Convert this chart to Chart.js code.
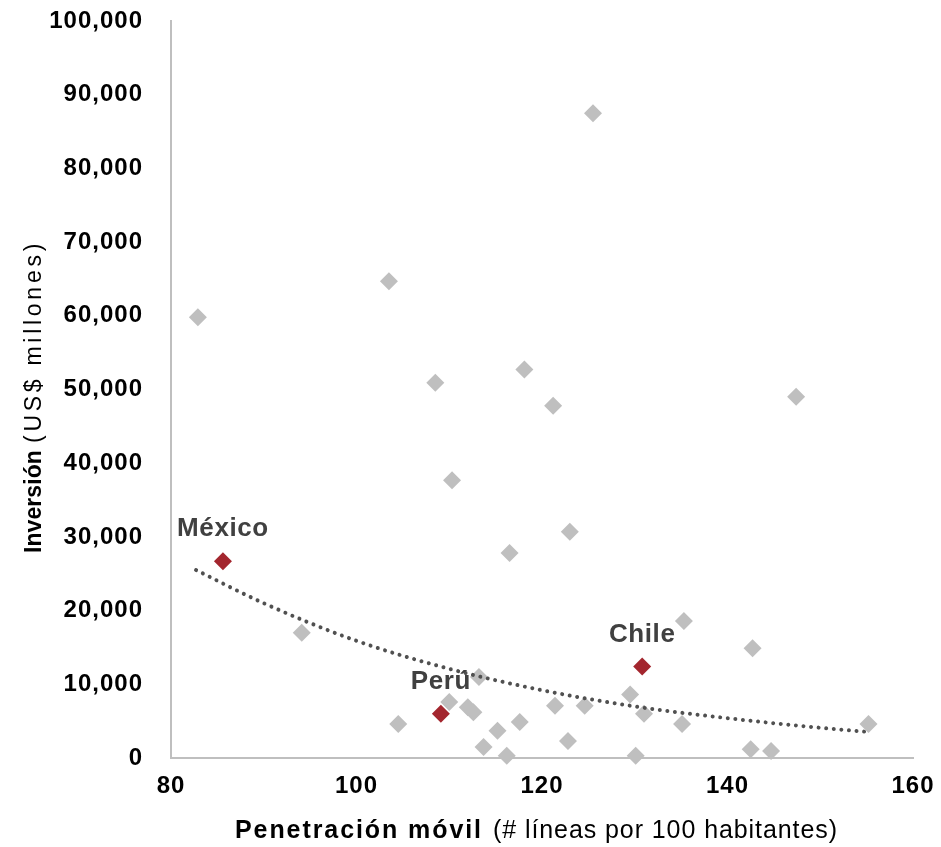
<!DOCTYPE html>
<html>
<head>
<meta charset="utf-8">
<script src="https://cdn.jsdelivr.net/npm/chart.js@4/dist/chart.umd.min.js"></script>
<style>
  body { margin: 0; background: #fff; }
</style>
</head>
<body>
<canvas id="scatterChart" width="941" height="847"></canvas>
<script>
// penetración móvil (x) vs inversión US$ millones (y)
const greyX = [82.9, 94.1, 103.5, 104.5, 108.5, 110.0, 110.3, 112.0, 112.6, 113.2, 113.7,
  115.2, 116.2, 116.5, 117.6, 118.1, 121.2, 121.4, 122.8, 123.0, 124.6, 125.5,
  129.5, 130.1, 131.0, 135.1, 135.3, 142.5, 142.7, 144.7, 147.4, 155.2];
const greyY = [59800, 17000, 64700, 4600, 50900, 7600, 37700, 6900, 6200, 11000, 1500,
  3700, 300, 27800, 4900, 52700, 47800, 7100, 2300, 30700, 7100, 87500,
  8600, 300, 6000, 4600, 18600, 1200, 14900, 950, 49000, 4600];

const redNames = ['México', 'Perú', 'Chile'];
const redX = [85.6, 109.1, 130.8];
const redY = [26700, 6000, 12400];

// trend line
const trendX = [82.7, 90, 100, 110, 120, 130, 140, 150, 155];
const trendY = [25500, 21000, 15900, 12100, 9200, 7000, 5400, 4100, 3550];

const xTicks = [80, 100, 120, 140, 160];
const yTicks = [0, 10000, 20000, 30000, 40000, 50000, 60000, 70000, 80000, 90000, 100000];

const toPoints = (xs, ys) => xs.map((x, i) => ({ x: x, y: ys[i] }));

// draw text stretched to a target width with letter spacing
function spacedText(ctx, text, x, y, font, width) {
  ctx.font = font;
  ctx.letterSpacing = '0px';
  const natural = ctx.measureText(text).width;
  const extra = (width - natural) / text.length;
  ctx.letterSpacing = extra.toFixed(2) + 'px';
  ctx.fillText(text, x, y);
}

const textPlugin = {
  id: 'textPlugin',
  beforeDraw(chart) {
    chart.ctx.letterSpacing = '1px';
  },
  afterDatasetsDraw(chart) {
    const ctx = chart.ctx;
    const xs = chart.scales.x, ys = chart.scales.y;
    ctx.save();
    ctx.fillStyle = '#404040';
    ctx.textBaseline = 'alphabetic';
    ctx.textAlign = 'left';
    ctx.font = 'bold 26px "Liberation Sans", Arial, sans-serif';
    ctx.letterSpacing = '0.6px';
    redNames.forEach((name, i) => {
      const px = xs.getPixelForValue(redX[i]);
      const py = ys.getPixelForValue(redY[i]);
      const w = ctx.measureText(name).width;
      ctx.fillText(name, px - w / 2, py - 25);
    });
    ctx.restore();
  },
  afterDraw(chart) {
    const ctx = chart.ctx;
    ctx.save();
    ctx.fillStyle = '#000';
    ctx.textBaseline = 'alphabetic';
    ctx.textAlign = 'left';
    // x axis title
    spacedText(ctx, 'Penetración móvil', 235, 838, 'bold 25px "Liberation Sans", Arial, sans-serif', 248);
    spacedText(ctx, '(# líneas por 100 habitantes)', 493, 838, '25px "Liberation Sans", Arial, sans-serif', 345);
    // y axis title
    ctx.translate(41, 553);
    ctx.rotate(-Math.PI / 2);
    spacedText(ctx, 'Inversión', 0, 0, 'bold 23px "Liberation Sans", Arial, sans-serif', 103);
    spacedText(ctx, '(US$ millones)', 110, 0, '23px "Liberation Sans", Arial, sans-serif', 203);
    ctx.restore();
    ctx.letterSpacing = '0px';
  }
};

const ctx = document.getElementById('scatterChart').getContext('2d');
new Chart(ctx, {
  type: 'scatter',
  data: {
    datasets: [
      {
        label: 'Tendencia',
        type: 'line',
        data: toPoints(trendX, trendY),
        borderColor: '#505050',
        borderWidth: 4,
        borderDash: [0.01, 7.6],
        borderCapStyle: 'round',
        pointRadius: 0,
        fill: false,
        tension: 0.4,
        cubicInterpolationMode: 'monotone',
        order: 0,
        clip: false
      },
      {
        label: 'Destacados',
        data: toPoints(redX, redY),
        pointStyle: 'rectRot',
        pointRadius: 9,
        pointBorderWidth: 0,
        backgroundColor: '#A3262E',
        borderColor: '#A3262E',
        order: 1,
        clip: false
      },
      {
        label: 'Países',
        data: toPoints(greyX, greyY),
        pointStyle: 'rectRot',
        pointRadius: 9,
        pointBorderWidth: 0,
        backgroundColor: '#BFBFBF',
        borderColor: '#BFBFBF',
        order: 2,
        clip: false
      }
    ]
  },
  options: {
    responsive: false,
    animation: false,
    layout: {
      padding: { top: 21, right: 28, left: 0, bottom: 0 }
    },
    plugins: {
      legend: { display: false },
      tooltip: { enabled: false }
    },
    scales: {
      x: {
        type: 'linear',
        min: 80,
        max: 160,
        afterBuildTicks: scale => { scale.ticks = xTicks.map(v => ({ value: v })); },
        afterFit: scale => {
          scale.height = 89;
          scale.paddingLeft = 0;
          scale.paddingRight = 0;
        },
        grid: { display: false, drawTicks: false },
        border: { display: true, color: '#BFBFBF', width: 2 },
        ticks: {
          padding: 14,
          color: '#000',
          font: { family: '"Liberation Sans", Arial, sans-serif', size: 24, weight: 'bold' }
        }
      },
      y: {
        type: 'linear',
        min: 0,
        max: 100000,
        afterBuildTicks: scale => { scale.ticks = yTicks.map(v => ({ value: v })); },
        afterFit: scale => {
          scale.width = 171;
          scale.paddingTop = 0;
          scale.paddingBottom = 0;
        },
        grid: { display: false, drawTicks: false },
        border: { display: true, color: '#BFBFBF', width: 2 },
        ticks: {
          padding: 28,
          color: '#000',
          font: { family: '"Liberation Sans", Arial, sans-serif', size: 24, weight: 'bold' },
          callback: value => value.toLocaleString('en-US')
        }
      }
    }
  },
  plugins: [textPlugin]
});
</script>
</body>
</html>
